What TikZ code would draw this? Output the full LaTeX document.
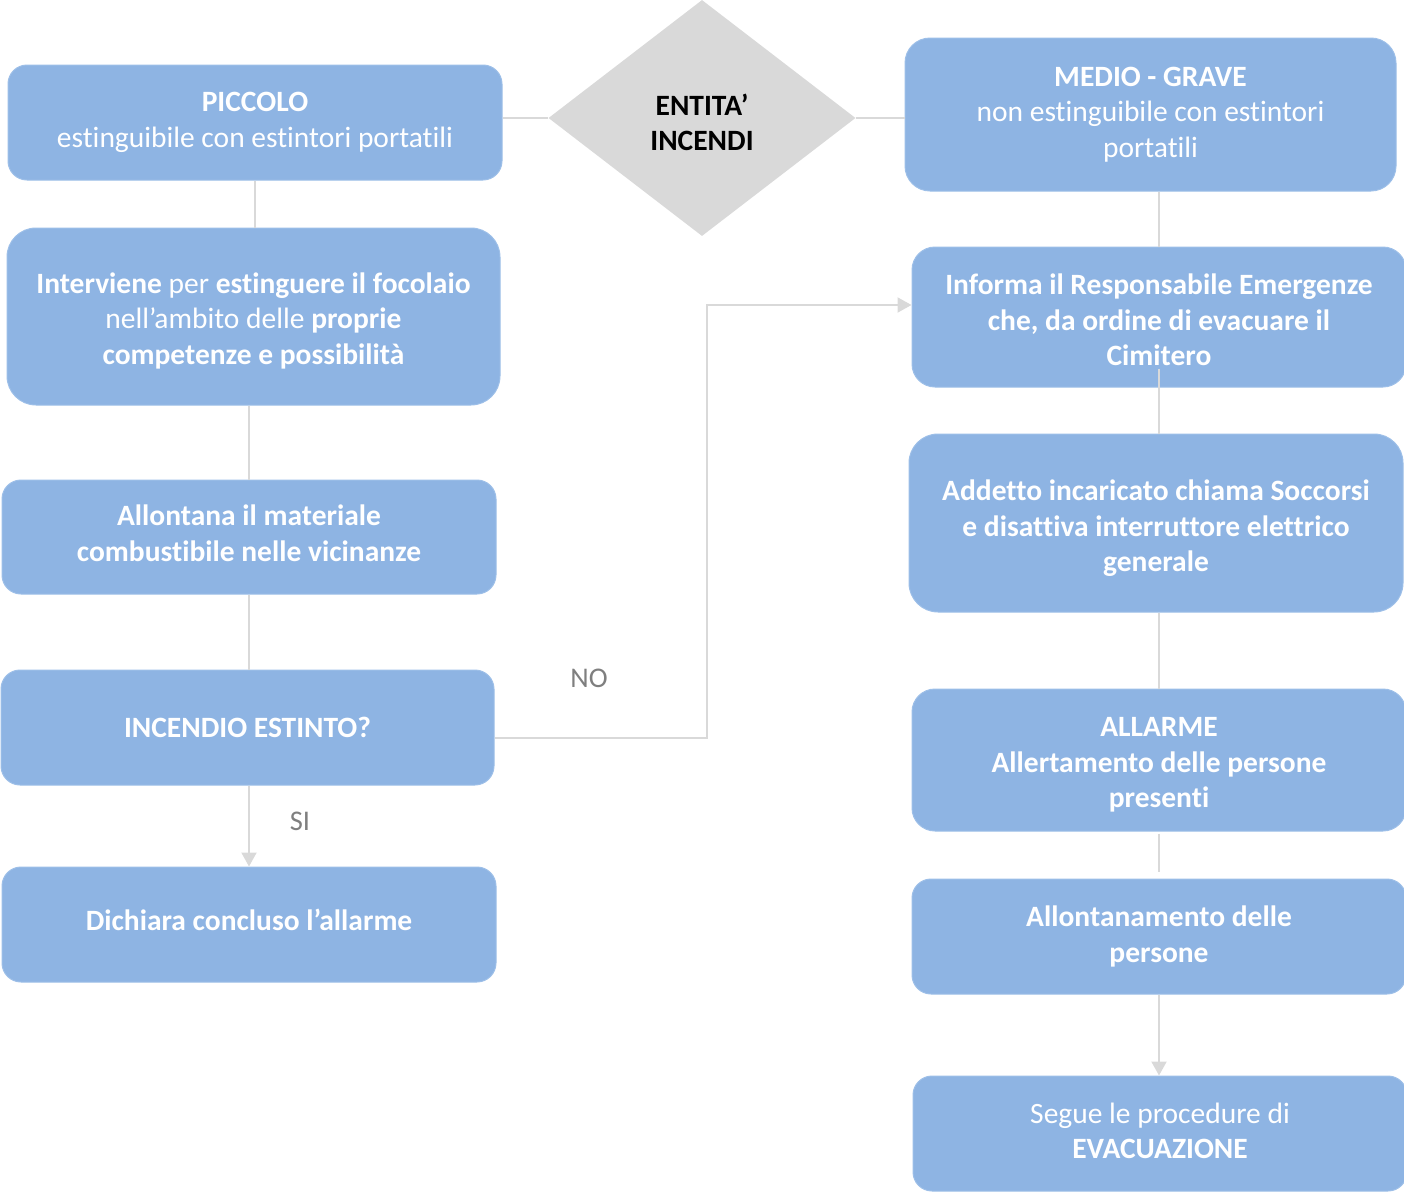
\documentclass[tikz,border=0pt]{standalone}
\usepackage{fontspec}
\setmainfont[Ligatures=NoCommon]{Carlito}
\usetikzlibrary{shapes.geometric,arrows.meta}
\definecolor{boxblue}{HTML}{8EB4E3}
\definecolor{boxedge}{HTML}{9DBFE8}
\definecolor{linegray}{HTML}{D9D9D9}
\definecolor{labgray}{HTML}{7F7F7F}
\newcommand{\bx}[1]{\textbf{#1}}
\newcommand{\up}[1]{\rule{0pt}{#1}}
\newcommand{\dn}[1]{\rule[-#1]{0pt}{0pt}}
\begin{document}
\begin{tikzpicture}[x=1pt,y=-1pt,
  box/.style={fill=boxblue, draw=boxedge, line width=1pt, text=white, align=center,
    inner sep=0pt, font=\fontsize{29.5}{35.5}\selectfont},
  conn/.style={draw=linegray, line width=2pt},
  arr/.style={conn, -{Triangle[width=15pt,length=14pt]}},
  lab/.style={text=labgray, inner sep=0pt, font=\fontsize{28.5}{35.5}\selectfont}
]
\useasboundingbox (0,0) rectangle (1404,1191);

% left column
\node[box, minimum width=494pt, minimum height=115pt, rounded corners=19pt] (piccolo) at (255,122.5)
  {\bx{PICCOLO}\\estinguibile con estintori portatili};
\node[box, minimum width=493pt, minimum height=177pt, rounded corners=29pt] (interviene) at (253.5,316.5)
  {\up{29pt}\bx{Interviene} per \bx{estinguere il focolaio}\\nell’ambito delle \bx{proprie}\\\bx{competenze e possibilità}};
\node[box, minimum width=494pt, minimum height=114pt, rounded corners=19pt] (allontana) at (249,537)
  {\bx{Allontana il materiale}\\\bx{combustibile nelle vicinanze}\dn{8pt}};
\node[box, minimum width=493pt, minimum height=115pt, rounded corners=19pt] (incendio) at (247.5,727.5)
  {\bx{INCENDIO ESTINTO?}};
\node[box, minimum width=494pt, minimum height=115pt, rounded corners=19pt] (dichiara) at (249,924.5)
  {\bx{Dichiara concluso l’allarme}\dn{9pt}};

% decision
\node[diamond, fill=linegray, minimum width=307pt, minimum height=236pt, inner sep=0pt,
  align=center, font=\fontsize{29.5}{35.5}\selectfont] (entita) at (702,118)
  {\up{30pt}\bx{ENTITA’}\\\bx{INCENDI}};

% right column
\node[box, minimum width=491pt, minimum height=153pt, rounded corners=25pt] (medio) at (1150.5,114.5)
  {\bx{MEDIO - GRAVE}\\non estinguibile con estintori\\portatili};
\node[box, minimum width=494pt, minimum height=140pt, rounded corners=23pt] (informa) at (1159,317)
  {\up{27pt}\bx{Informa il Responsabile Emergenze}\\\bx{che, da ordine di evacuare il}\\\bx{Cimitero}};
\node[box, minimum width=494pt, minimum height=178pt, rounded corners=29pt] (addetto) at (1156,523)
  {\up{31pt}\bx{Addetto incaricato chiama Soccorsi}\\\bx{e disattiva interruttore elettrico}\\\bx{generale}};
\node[box, minimum width=494pt, minimum height=142pt, rounded corners=23pt] (allarme) at (1159,760)
  {\up{29pt}\bx{ALLARME}\\\bx{Allertamento delle persone}\\\bx{presenti}};
\node[box, minimum width=494pt, minimum height=115pt, rounded corners=19pt] (allontanamento) at (1159,936.5)
  {\bx{Allontanamento delle}\\\bx{persone}};
\node[box, minimum width=494pt, minimum height=115pt, rounded corners=19pt] (segue) at (1160,1133.5)
  {Segue le procedure di\\\bx{EVACUAZIONE}\dn{6pt}};

% labels
\node[lab] (no) at (589,678) {NO};
\node[lab] (si) at (300,821) {SI};

% connectors
\draw[conn] (piccolo.east |- entita.west) -- (entita.west);
\draw[conn] (entita.east) -- (medio.west |- entita.east);
\draw[conn] (piccolo.south) -- (piccolo.south |- interviene.north);
\draw[conn] (allontana.north |- interviene.south) -- (allontana.north);
\draw[conn] (allontana.south) -- (allontana.south |- incendio.north);
\draw[arr] (dichiara.north |- incendio.south) -- (dichiara.north);
\coordinate (elbow) at (707,305);
\draw[arr] ([yshift=-10.5pt]incendio.east) -| (elbow) -- ([yshift=12pt]informa.west);
\draw[conn] (informa.north |- medio.south) -- (informa.north);
\draw[conn] ([yshift=19pt]informa.south) -- (informa.south |- addetto.north);
\draw[conn] (allarme.north |- addetto.south) -- (allarme.north);
\draw[conn] ([yshift=-2pt]allarme.south) -- ([yshift=7pt]allontanamento.north);
\draw[arr] (allontanamento.south) -- (allontanamento.south |- segue.north);
\end{tikzpicture}
\end{document}
